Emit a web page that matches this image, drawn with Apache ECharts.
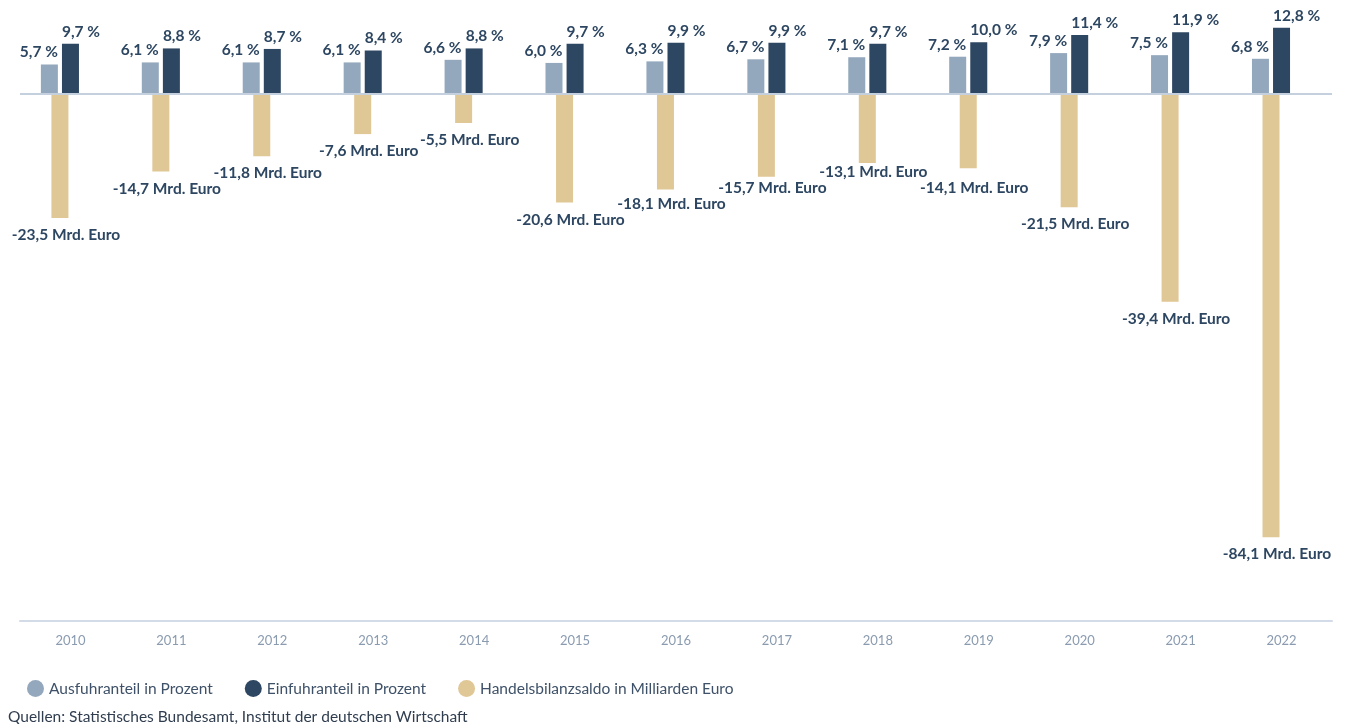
<!DOCTYPE html>
<html><head><meta charset="utf-8">
<script src="https://cdn.jsdelivr.net/npm/echarts@6/dist/echarts.min.js"></script>
<style>html,body{margin:0;padding:0;background:#fff}#c{width:1346px;height:724px}</style>
</head><body><div id="c"></div>
<script>
const years = ['2010','2011','2012','2013','2014','2015','2016','2017','2018','2019','2020','2021','2022'];
const ausfuhr = [5.7,6.1,6.1,6.1,6.6,6.0,6.3,6.7,7.1,7.2,7.9,7.5,6.8];
const einfuhr = [9.7,8.8,8.7,8.4,8.8,9.7,9.9,9.9,9.7,10.0,11.4,11.9,12.8];
const saldo = [-23.5,-14.7,-11.8,-7.6,-5.5,-20.6,-18.1,-15.7,-13.1,-14.1,-21.5,-39.4,-84.1];
const pad = years.map(() => null);

const FONT = 'Lato';
const dark = '#2d4661';
const LS = 15.5;
const fmt = v => v.toFixed(1).replace('.', ',');

// simple overlap avoidance for the balance labels (neighbouring labels are separated vertically)
let prevLabel = null;
function saldoLabelLayout(p) {
  const r = p.labelRect;
  const dx = 6;
  if (p.dataIndex === 0) prevLabel = null;
  const x0 = r.x + dx, x1 = x0 + r.width;
  let cy = r.y + r.height / 2, dy = 0;
  const MIN_SEP = 16, X_MARGIN = 4;
  if (prevLabel && x0 < prevLabel.x1 - X_MARGIN && Math.abs(cy - prevLabel.cy) < MIN_SEP) {
    const target = cy < prevLabel.cy ? prevLabel.cy - MIN_SEP : prevLabel.cy + MIN_SEP;
    dy = target - cy;
    cy = target;
  }
  prevLabel = {x1, cy};
  return {dx, dy};
}

const chart = echarts.init(document.getElementById('c'));
chart.setOption({
  animation: false,
  textStyle: {fontFamily: FONT},
  grid: {left: 20, right: 14, top: 15, bottom: 103},
  xAxis: [
    {type: 'category', data: years, position: 'bottom',
     axisLine: {onZero: false, lineStyle: {color: '#d3dbe8', width: 2}},
     axisTick: {alignWithLabel: true, length: 6, lineStyle: {color: '#c8d2e0'}},
     axisLabel: {color: '#8a9bb0', fontSize: 13, margin: 13, fontFamily: FONT}},
    {type: 'category', data: years, show: false}
  ],
  yAxis: [
    {type: 'value', min: -101.7, max: 15.25, show: false, splitLine: {show: false}},
    {type: 'value', min: -100, max: 15, show: false, splitLine: {show: false}}
  ],
  legend: {
    data: ['Ausfuhranteil in Prozent', 'Einfuhranteil in Prozent', 'Handelsbilanzsaldo in Milliarden Euro'],
    left: 22, top: 675, icon: 'circle', itemWidth: 17, itemHeight: 17, itemGap: 32,
    textStyle: {color: '#3e5168', fontSize: LS, fontFamily: FONT}
  },
  title: {
    text: 'Quellen: Statistisches Bundesamt, Institut der deutschen Wirtschaft',
    left: 3, top: 704,
    textStyle: {color: '#2f3d4f', fontSize: LS, fontWeight: 'normal', fontFamily: FONT}
  },
  series: [
    {name: 'Ausfuhranteil in Prozent', type: 'bar', xAxisIndex: 0, yAxisIndex: 0,
     data: ausfuhr, barWidth: 17, barGap: '24%', itemStyle: {color: '#94a8bd'},
     label: {show: true, position: ['100%', -4], align: 'right', verticalAlign: 'bottom',
       color: dark, fontWeight: 'bold', fontSize: LS, fontFamily: FONT,
       textBorderColor: '#fff', textBorderWidth: 2,
       formatter: p => fmt(p.value) + ' %'}},
    {name: 'Einfuhranteil in Prozent', type: 'bar', xAxisIndex: 0, yAxisIndex: 0,
     data: einfuhr, barWidth: 17, barGap: '24%', itemStyle: {color: '#2d4661'},
     label: {show: true, position: [0, -4], align: 'left', verticalAlign: 'bottom',
       color: dark, fontWeight: 'bold', fontSize: LS, fontFamily: FONT,
       textBorderColor: '#fff', textBorderWidth: 2,
       formatter: p => fmt(p.value) + ' %'}},
    {name: '_pad1', type: 'bar', xAxisIndex: 0, yAxisIndex: 0, data: pad, barWidth: 17, barGap: '24%'},
    {name: 'Handelsbilanzsaldo in Milliarden Euro', type: 'bar', xAxisIndex: 1, yAxisIndex: 1,
     data: saldo, barWidth: 17, barGap: '24%', itemStyle: {color: '#e0c796'},
     label: {show: true, position: 'bottom', distance: 9,
       color: dark, fontWeight: 'bold', fontSize: LS, fontFamily: FONT,
       textBorderColor: '#fff', textBorderWidth: 2,
       formatter: p => fmt(p.value) + ' Mrd. Euro'},
     labelLayout: saldoLabelLayout,
     markLine: {silent: true, symbol: 'none', label: {show: false},
       lineStyle: {color: '#c5d0df', width: 2, type: 'solid'},
       data: [{yAxis: 0}], z: 10}},
    {name: '_pad2', type: 'bar', xAxisIndex: 1, yAxisIndex: 1, data: pad, barWidth: 17, barGap: '24%'}
  ]
});
</script></body></html>
